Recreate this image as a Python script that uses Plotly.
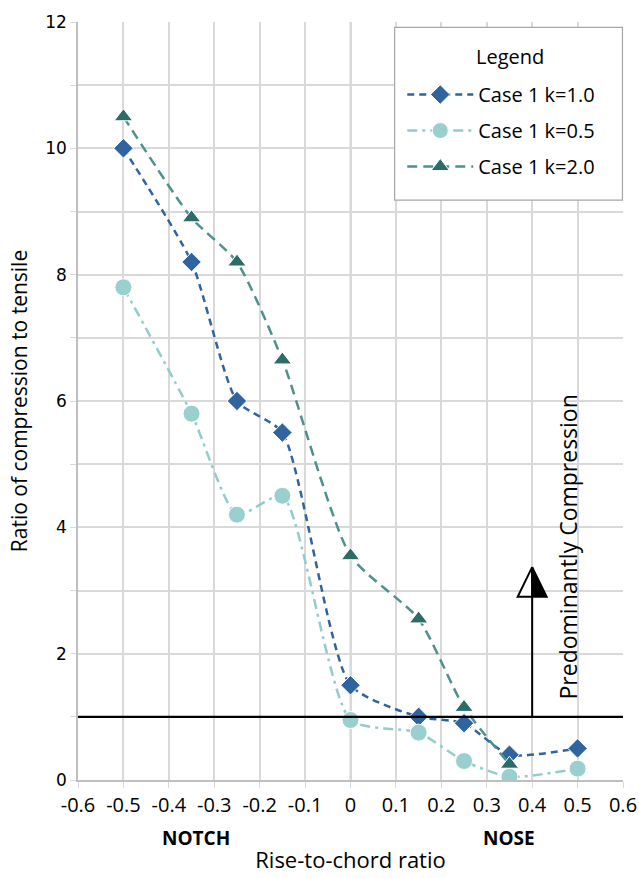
import plotly.graph_objects as go

x_vals = [-0.5, -0.35, -0.25, -0.15, 0.0, 0.15, 0.25, 0.35, 0.5]
k10 = [10.0, 8.2, 6.0, 5.5, 1.5, 1.0, 0.9, 0.4, 0.5]
k05 = [7.8, 5.8, 4.2, 4.5, 0.95, 0.75, 0.3, 0.05, 0.18]
x_k20 = [-0.5, -0.35, -0.25, -0.15, 0.0, 0.15, 0.25, 0.35]
k20 = [10.5, 8.9, 8.2, 6.65, 3.55, 2.55, 1.15, 0.25]

x_ticks = [-0.6, -0.5, -0.4, -0.3, -0.2, -0.1, 0, 0.1, 0.2, 0.3, 0.4, 0.5, 0.6]
x_tick_text = ["-0.6", "-0.5", "-0.4", "-0.3", "-0.2", "-0.1", "0", "0.1", "0.2", "0.3", "0.4", "0.5", "0.6"]
y_ticks = [0, 2, 4, 6, 8, 10, 12]

FONT = "Open Sans"

fig = go.Figure()

fig.add_trace(go.Scatter(
    x=x_vals, y=k10, name="Case 1 k=1.0", mode="lines+markers", legendgroup="a",
    line=dict(color="#2F649E", width=2.5, dash="7px,5px", shape="spline", smoothing=0.6),
    marker=dict(symbol="diamond", size=15, color="#2F649E", line=dict(color="white", width=1)),
))
fig.add_trace(go.Scatter(
    x=x_vals, y=k05, name="Case 1 k=0.5", mode="lines+markers", legendgroup="b",
    line=dict(color="#92CCCC", width=2.5, dash="10px,5px,3px,5px", shape="spline", smoothing=0.6),
    marker=dict(symbol="circle", size=17, color="#99CFCF", line=dict(color="white", width=1)),
))
fig.add_trace(go.Scatter(
    x=x_k20, y=k20, name="Case 1 k=2.0", mode="lines+markers", legendgroup="c",
    line=dict(color="#4E918C", width=2.5, dash="10px,6px", shape="spline", smoothing=0.6),
    marker=dict(symbol="triangle-up", size=16, color="#2D6B66", line=dict(color="white", width=1)),
))

shapes = [
    dict(type="line", xref="x", yref="y", x0=0, x1=0, y0=0, y1=12,
         line=dict(color="#A6A6A6", width=1.5), layer="below"),
    dict(type="line", xref="paper", yref="y", x0=0, x1=1, y0=1, y1=1,
         line=dict(color="black", width=2.2)),
    dict(type="line", xref="x", yref="y", x0=0.4, x1=0.4, y0=1, y1=2.9,
         line=dict(color="black", width=2)),
    dict(type="path", xref="x", yref="y",
         path="M 0.368 2.9 L 0.4 3.37 L 0.4 2.9 Z",
         fillcolor="white", line=dict(color="black", width=2)),
    dict(type="path", xref="x", yref="y",
         path="M 0.432 2.9 L 0.4 3.37 L 0.4 2.9 Z",
         fillcolor="black", line=dict(color="black", width=2)),
    # legend frame
    dict(type="rect", xref="paper", yref="paper", x0=0.581, x1=0.999, y0=0.765, y1=0.993,
         fillcolor="white", line=dict(color="#A6A6A6", width=1.2), layer="above"),
]

annotations = [
    dict(x=0.478, y=3.69, xref="x", yref="y", text="Predominantly Compression",
         textangle=-90, showarrow=False, font=dict(family=FONT, size=23, color="black")),
    dict(x=-0.34, y=-0.077, xref="x", yref="paper", yanchor="middle", text="<b>NOTCH</b>",
         showarrow=False, font=dict(family=FONT, size=19, color="black")),
    dict(x=0.35, y=-0.077, xref="x", yref="paper", yanchor="middle", text="<b>NOSE</b>",
         showarrow=False, font=dict(family=FONT, size=19, color="black")),
    dict(x=0.793, y=0.955, xref="paper", yref="paper", yanchor="middle", xanchor="center",
         text="Legend", showarrow=False, font=dict(family=FONT, size=20, color="black")),
]

fig.update_layout(
    width=639, height=878,
    margin=dict(l=78, r=16, t=22, b=98),
    paper_bgcolor="white", plot_bgcolor="white",
    font=dict(family=FONT, size=20, color="black"),
    shapes=shapes, annotations=annotations,
    showlegend=True,
    legend=dict(
        x=0.595, y=0.93, xanchor="left", yanchor="top",
        bgcolor="rgba(0,0,0,0)", borderwidth=0,
        font=dict(family=FONT, size=20, color="black"),
        itemwidth=66, traceorder="grouped", tracegroupgap=7,
    ),
)

fig.update_xaxes(
    range=[-0.6, 0.6], tickvals=x_ticks, ticktext=x_tick_text,
    showgrid=True, gridcolor="#D9D9D9", gridwidth=1.5,
    showline=True, linecolor="#BFBFBF", linewidth=1.5,
    ticks="outside", ticklen=6, tickcolor="#D9D9D9",
    zeroline=False, mirror=False, automargin=False,
    tickfont=dict(family=FONT, size=20),
    title=dict(text="Rise-to-chord ratio", font=dict(family=FONT, size=22), standoff=36),
)
fig.update_yaxes(
    range=[0, 12], tickvals=y_ticks,
    showgrid=True, gridcolor="#D9D9D9", gridwidth=1.5,
    minor=dict(dtick=1, showgrid=True, gridcolor="#D9D9D9", gridwidth=1.5,
               ticks="outside", ticklen=6, tickcolor="#D9D9D9"),
    showline=True, linecolor="#BFBFBF", linewidth=1.5,
    ticks="outside", ticklen=6, tickcolor="#D9D9D9",
    zeroline=False, automargin=False,
    tickfont=dict(family="DejaVu Sans", size=17),
    title=dict(text="Ratio of compression to tensile", font=dict(family=FONT, size=21), standoff=12),
)

fig.write_html("out.html")
